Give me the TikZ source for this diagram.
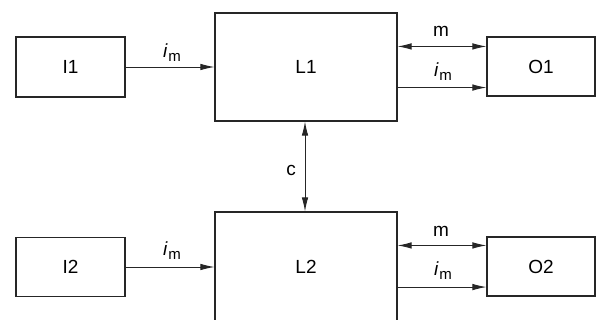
\documentclass[tikz,border=0pt]{standalone}
\usepackage{fontspec}
\setmainfont{Liberation Sans}
\usetikzlibrary{arrows.meta}
\begin{document}
\begin{tikzpicture}[x=1pt,y=-1pt,
  box/.style={draw=black!85,line width=1.1pt,inner sep=0pt,font=\fontsize{19}{20}\selectfont},
  arr/.style={draw=black!85,line width=0.9pt,-{Latex[length=14pt,width=6.5pt]}},
  dbl/.style={draw=black!85,line width=0.9pt,{Latex[length=14pt,width=6.5pt]}-{Latex[length=14pt,width=6.5pt]}},
  lab/.style={inner sep=0pt,font=\fontsize{19}{20}\selectfont}]
\useasboundingbox (0,0) rectangle (596,320);
\newcommand{\imlab}{\textit{i}\kern0.5pt\raisebox{-4pt}{\fontsize{15}{15}\selectfont m}}
% boxes
\node[box,minimum width=109pt,minimum height=60pt] (I1) at (70.5,67) {I1};
\node[box,minimum width=182pt,minimum height=108pt] (L1) at (306,67) {L1};
\node[box,minimum width=108pt,minimum height=59pt] (O1) at (541,66.5) {O1};
\node[box,minimum width=109pt,minimum height=59pt] (I2) at (70.5,267) {I2};
\node[box,minimum width=182pt,minimum height=110pt] (L2) at (306,267) {L2};
\node[box,minimum width=108pt,minimum height=59pt] (O2) at (541,266.5) {O2};
% helper coordinates
\coordinate (m1) at ([yshift=-10pt]O1.north west);
\coordinate (n1) at ([yshift=9pt]O1.south west);
\coordinate (m2) at ([yshift=-9pt]O2.north west);
\coordinate (n2) at ([yshift=9.5pt]O2.south west);
% connectors
\draw[arr] (I1) -- (L1);
\draw[arr] (I2) -- (L2);
\draw[dbl] (L1.east |- m1) -- (m1);
\draw[arr] (L1.east |- n1) -- (n1);
\draw[dbl] (L2.east |- m2) -- (m2);
\draw[arr] (L2.east |- n2) -- (n2);
\draw[dbl] ([xshift=-1pt]L1.south) -- ([xshift=-1pt]L2.north);
% labels
\node[lab] (la1) at (172,53) {\imlab};
\node[lab] (la2) at (172,251) {\imlab};
\node[lab] (lm1) at (441,31) {m};
\node[lab] (ln1) at (443,72) {\imlab};
\node[lab] (lm2) at (441,231) {m};
\node[lab] (ln2) at (443,271) {\imlab};
\node[lab] (lc) at (291,170) {c};
\end{tikzpicture}
\end{document}
